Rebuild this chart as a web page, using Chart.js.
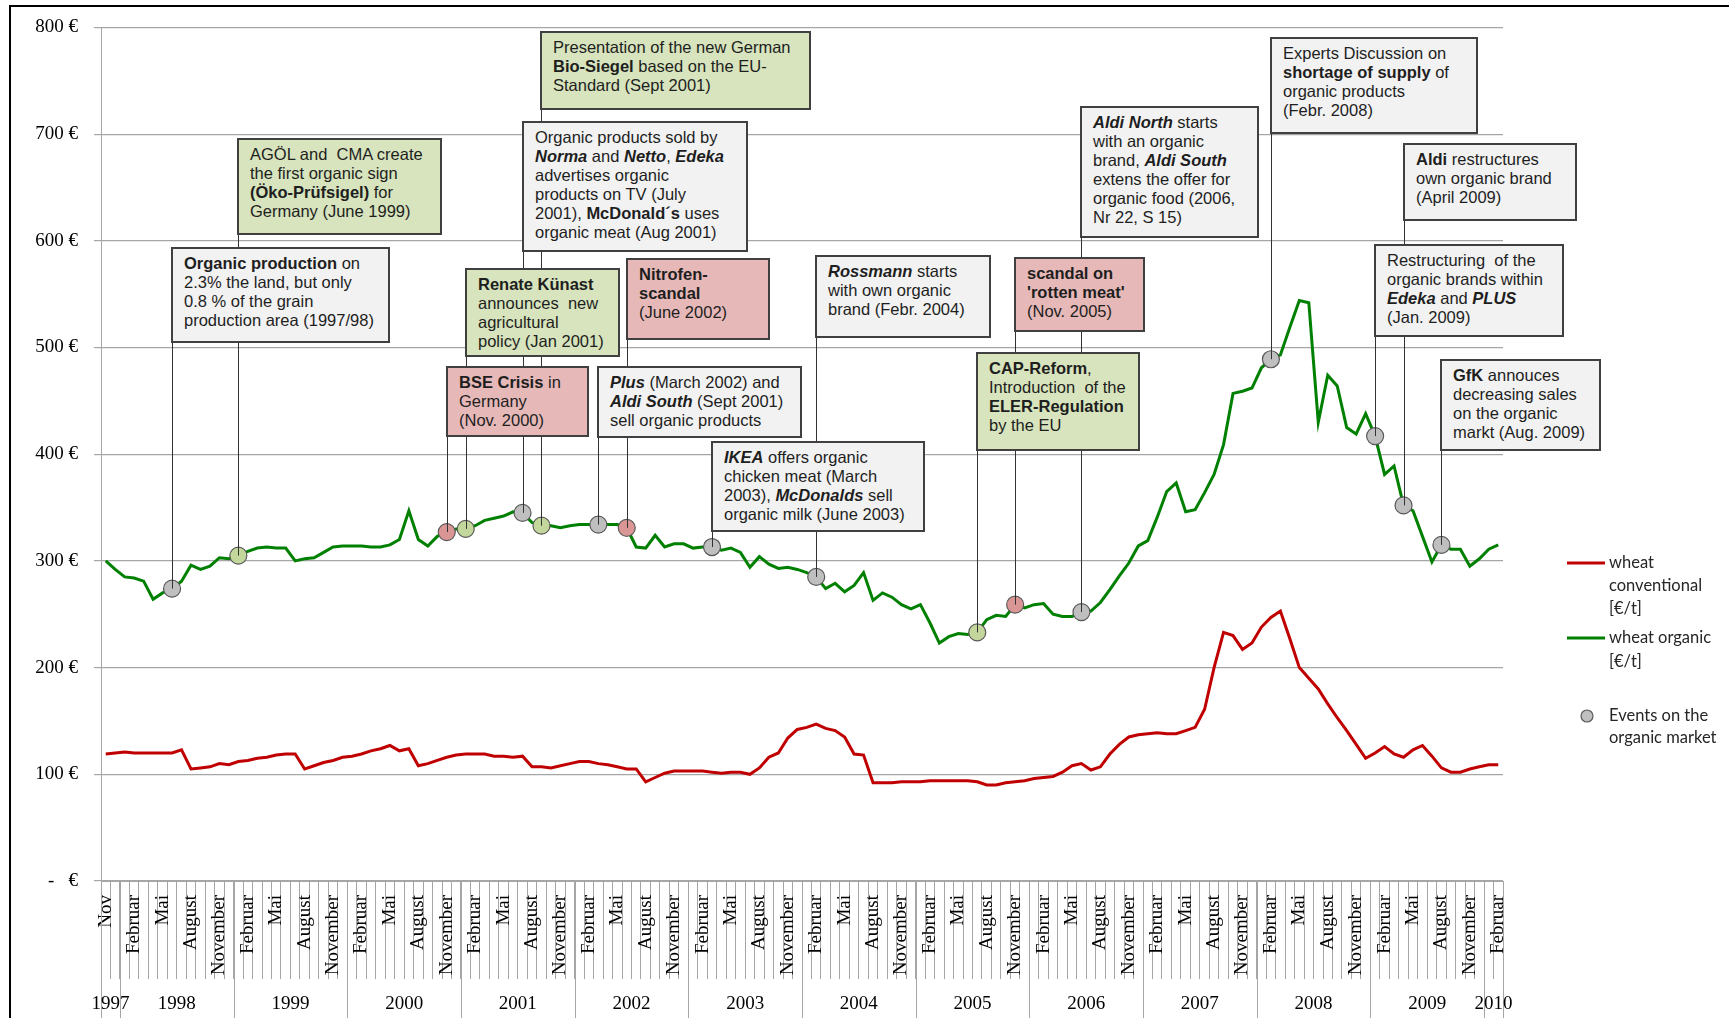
<!DOCTYPE html>
<html>
<head>
<meta charset="utf-8">
<title>Wheat prices and events on the organic market</title>
<script src="https://cdn.jsdelivr.net/npm/chart.js@4.4.0/dist/chart.umd.min.js"></script>
<style>
  html, body { margin: 0; padding: 0; background: #fff; }
  #wrap { position: relative; width: 1729px; height: 1018px; overflow: hidden; }
  #chart { position: absolute; left: 0; top: 0; }
  .box { position: absolute; box-sizing: border-box; border: 2px solid #404040;
         padding: 5px 0 0 11px; font: 16.5px/19px "Liberation Sans", Arial, sans-serif;
         color: #1e1e1e; white-space: pre; }
  .gray { background: #f2f2f2; }
  .green { background: #d7e4bd; }
  .red { background: #e6b9b8; }
</style>
</head>
<body>
<div id="wrap"><canvas id="chart" width="1729" height="1018"></canvas></div>
<script>
// Monatswerte Nov 1997 - Feb 2010 (Euro je Tonne)
const startYear = 1997;
const startMonth = 10; // November
const monthNames = ["Januar", "Februar", "März", "April", "Mai", "Juni", "Juli",
  "August", "September", "Oktober", "November", "Dezember"];

const conventional = [
  119, 120, 121, 120, 120, 120, 120, 120, 123, 105, 106, 107, 110, 109, 112, 113,
  115, 116, 118, 119, 119, 105, 108, 111, 113, 116, 117, 119, 122, 124, 127, 122,
  124, 108, 110, 113, 116, 118, 119, 119, 119, 117, 117, 116, 117, 107, 107, 106,
  108, 110, 112, 112, 110, 109, 107, 105, 105, 93, 97, 101, 103, 103, 103, 103,
  102, 101, 102, 102, 100, 106, 116, 120, 134, 142, 144, 147, 143, 141, 135, 119,
  118, 92, 92, 92, 93, 93, 93, 94, 94, 94, 94, 94, 93, 90, 90, 92,
  93, 94, 96, 97, 98, 102, 108, 110, 104, 107, 119, 128, 135, 137, 138, 139,
  138, 138, 141, 144, 161, 200, 233, 230, 217, 223, 238, 247, 253, 227, 200, 190,
  180, 166, 153, 141, 128, 115, 120, 126, 119, 116, 123, 127, 117, 106, 102, 102,
  105, 107, 109, 109
];

const organic = [
  300, 292, 285, 284, 281, 264, 270, 274, 281, 296, 292, 295, 303, 302, 305, 309,
  312, 313, 312, 312, 300, 302, 303, 308, 313, 314, 314, 314, 313, 313, 315, 320,
  347, 320, 314, 323, 327, 330, 330, 333, 338, 340, 342, 346, 345, 336, 333, 333,
  331, 333, 334, 334, 334, 334, 334, 331, 313, 312, 324, 313, 316, 316, 312, 313,
  313, 310, 312, 308, 294, 304, 297, 293, 294, 292, 289, 285, 274, 279, 271, 277,
  289, 263, 270, 266, 259, 255, 259, 242, 223, 229, 232, 231, 233, 245, 249, 248,
  259, 256, 259, 260, 250, 248, 248, 252, 253, 261, 273, 286, 298, 314, 319, 341,
  365, 373, 346, 348, 364, 381, 409, 457, 459, 462, 481, 489, 493, 519, 544, 542,
  430, 474, 464, 425, 419, 438, 417, 381, 389, 352, 347, 323, 299, 315, 311, 311,
  295, 302, 311, 315
];

// Ereignisse: Monatsindex, Farbe, Text
const eventMonths = [7, 14, 36, 38, 44, 46, 52, 55, 64, 75, 92, 96, 103, 123, 134, 137, 141];
const eventKinds = ["gray", "green", "red", "green", "gray", "green", "gray", "red", "gray",
  "gray", "green", "red", "gray", "gray", "gray", "gray", "gray"];
const eventTexts = [
  "<b>Organic production</b> on\n2.3% the land, but only\n0.8 % of the grain\nproduction area (1997/98)",
  "AGÖL and  CMA create\nthe first organic sign\n<b>(Öko-Prüfsigel)</b> for\nGermany (June 1999)",
  "<b>BSE Crisis</b> in\nGermany\n(Nov. 2000)",
  "<b>Renate Künast</b>\nannounces  new\nagricultural\npolicy (Jan 2001)",
  "Organic products sold by\n<b><i>Norma</i></b> and <b><i>Netto</i></b>, <b><i>Edeka</i></b>\nadvertises organic\nproducts on TV (July\n2001), <b>McDonald´s</b> uses\norganic meat (Aug 2001)",
  "Presentation of the new German\n<b>Bio-Siegel</b> based on the EU-\nStandard (Sept 2001)",
  "<b><i>Plus</i></b> (March 2002) and\n<b><i>Aldi South</i></b> (Sept 2001)\nsell organic products",
  "<b>Nitrofen-\nscandal</b>\n(June 2002)",
  "<b><i>IKEA</i></b> offers organic\nchicken meat (March\n2003), <b><i>McDonalds</i></b> sell\norganic milk (June 2003)",
  "<b><i>Rossmann</i></b> starts\nwith own organic\nbrand (Febr. 2004)",
  "<b>CAP-Reform</b>,\nIntroduction  of the\n<b>ELER-Regulation</b>\nby the EU",
  "<b>scandal on\n'rotten meat'</b>\n(Nov. 2005)",
  "<b><i>Aldi North</i></b> starts\nwith an organic\nbrand, <b><i>Aldi South</i></b>\nextens the offer for\norganic food (2006,\nNr 22, S 15)",
  "Experts Discussion on\n<b>shortage of supply</b> of\norganic products\n(Febr. 2008)",
  "Restructuring  of the\norganic brands within\n<b><i>Edeka</i></b> and <b><i>PLUS</i></b>\n(Jan. 2009)",
  "<b>Aldi</b> restructures\nown organic brand\n(April 2009)",
  "<b>GfK</b> annouces\ndecreasing sales\non the organic\nmarkt (Aug. 2009)"
];

// Lage der Textkästen: [oben, Breite, Höhe] in Pixeln
const boxFrames = [
  [247, 219, 96], [138, 205, 97], [366, 143, 71], [268, 155, 89], [121, 226, 131],
  [31, 271, 79], [366, 205, 72], [258, 144, 82], [441, 214, 91], [255, 176, 83],
  [352, 164, 99], [257, 131, 75], [106, 179, 132], [37, 208, 97], [244, 190, 93],
  [143, 174, 78], [359, 161, 92]
];

const markerColors = { gray: "#bfbfbf", green: "#c3d69b", red: "#d99694" };

// Monatsbeschriftungen
const monthLabels = [];
const monthYears = [];
for (let i = 0; i < organic.length; i++) {
  const m = (startMonth + i) % 12;
  monthLabels.push(monthNames[m]);
  monthYears.push(startYear + Math.floor((startMonth + i) / 12));
}
monthLabels[0] = "Nov";

const eventPoints = organic.map((v, i) => eventMonths.includes(i) ? v : null);

const extras = {
  id: "extras",
  beforeDraw(chart) {
    const ctx = chart.ctx;
    ctx.save();
    ctx.fillStyle = "#fff";
    ctx.fillRect(0, 0, chart.width, chart.height);
    ctx.strokeStyle = "#000";
    ctx.lineWidth = 2;
    ctx.beginPath();
    ctx.moveTo(10, chart.height);
    ctx.lineTo(10, 6);
    ctx.lineTo(chart.width, 6);
    ctx.stroke();
    ctx.restore();
  },
  afterDatasetsDraw(chart) {
    // Verbindungslinien von den Kästen zu den Punkten
    const ctx = chart.ctx;
    const x = chart.scales.x, y = chart.scales.y;
    ctx.save();
    ctx.strokeStyle = "#333";
    ctx.lineWidth = 1;
    eventMonths.forEach((m, k) => {
      const px = Math.round(x.getPixelForValue(m)) + 0.5;
      const top = boxFrames[k][0] + boxFrames[k][2];
      ctx.beginPath();
      ctx.moveTo(px, top);
      ctx.lineTo(px, y.getPixelForValue(organic[m]));
      ctx.stroke();
    });
    ctx.restore();
  },
  afterDraw(chart) {
    const ctx = chart.ctx;
    const x = chart.scales.x;
    const n = organic.length;
    const half = (x.getPixelForValue(1) - x.getPixelForValue(0)) / 2;
    const edge = i => i < n ? x.getPixelForValue(i) - half : x.getPixelForValue(n - 1) + half;

    ctx.save();
    // Jahrestrenner
    ctx.strokeStyle = "#a6a6a6";
    ctx.lineWidth = 1;
    const bounds = [0];
    for (let i = 1; i < n; i++) if (monthYears[i] !== monthYears[i - 1]) bounds.push(i);
    bounds.push(n);
    bounds.forEach(b => {
      const px = Math.round(edge(b)) + 0.5;
      ctx.beginPath();
      ctx.moveTo(px, x.top);
      ctx.lineTo(px, chart.height);
      ctx.stroke();
    });
    // Jahreszahlen
    ctx.fillStyle = "#000";
    ctx.font = "19px 'Liberation Serif'";
    ctx.textAlign = "center";
    ctx.textBaseline = "middle";
    for (let k = 0; k < bounds.length - 1; k++) {
      const cx = (edge(bounds[k]) + edge(bounds[k + 1])) / 2;
      ctx.fillText(String(monthYears[bounds[k]]), cx, 1004);
    }

    // Legende
    ctx.textAlign = "left";
    ctx.font = "16.5px Lato";
    ctx.fillStyle = "#262626";
    ctx.lineWidth = 3;
    ctx.strokeStyle = "#c00000";
    ctx.beginPath(); ctx.moveTo(1567, 563); ctx.lineTo(1605, 563); ctx.stroke();
    ctx.fillText("wheat", 1609, 563);
    ctx.fillText("conventional", 1609, 586);
    ctx.fillText("[€/t]", 1609, 609);
    ctx.strokeStyle = "#008000";
    ctx.beginPath(); ctx.moveTo(1567, 638); ctx.lineTo(1605, 638); ctx.stroke();
    ctx.fillText("wheat organic", 1609, 638);
    ctx.fillText("[€/t]", 1609, 662);
    ctx.lineWidth = 1.2;
    ctx.strokeStyle = "#595959";
    ctx.fillStyle = markerColors.gray;
    ctx.beginPath(); ctx.arc(1587, 716, 6, 0, Math.PI * 2); ctx.fill(); ctx.stroke();
    ctx.fillStyle = "#262626";
    ctx.fillText("Events on the", 1609, 716);
    ctx.fillText("organic market", 1609, 738);
    ctx.restore();
  }
};

const serif = { family: "'Liberation Serif', 'Times New Roman', serif", size: 19 };

const chart = new Chart(document.getElementById("chart"), {
  type: "line",
  data: {
    labels: monthLabels,
    datasets: [
      {
        label: "wheat conventional [€/t]",
        data: conventional,
        borderColor: "#c00000",
        borderWidth: 3,
        pointRadius: 0,
        tension: 0,
        order: 2
      },
      {
        label: "wheat organic [€/t]",
        data: organic,
        borderColor: "#008000",
        borderWidth: 3,
        pointRadius: 0,
        tension: 0,
        order: 1
      },
      {
        label: "Events on the organic market",
        data: eventPoints,
        showLine: false,
        pointRadius: 8.5,
        pointBorderWidth: 1.2,
        pointBorderColor: "#595959",
        pointBackgroundColor: c => markerColors[eventKinds[eventMonths.indexOf(c.dataIndex)]] || "#bfbfbf",
        order: 0
      }
    ]
  },
  options: {
    responsive: false,
    animation: false,
    devicePixelRatio: 1,
    layout: { padding: { top: 26, right: 226, bottom: 0, left: 0 } },
    plugins: { legend: { display: false }, tooltip: { enabled: false } },
    scales: {
      x: {
        offset: true,
        grid: { offset: true, drawOnChartArea: false, drawTicks: true, tickLength: 98, color: "#a6a6a6", lineWidth: 1 },
        border: { color: "#a6a6a6" },
        ticks: {
          autoSkip: false,
          minRotation: 90,
          maxRotation: 90,
          padding: -84,
          color: "#000",
          font: serif,
          callback: (v, i) => i % 3 === 0 ? monthLabels[i] : ""
        },
        afterFit: s => { s.height = 137; }
      },
      y: {
        min: 0,
        max: 800,
        ticks: {
          stepSize: 100,
          padding: 16,
          color: "#000",
          font: serif,
          callback: v => v === 0 ? "-   €" : v + " €"
        },
        grid: { color: "#a6a6a6", tickLength: 7, lineWidth: 1.2 },
        border: { color: "#a6a6a6" },
        afterFit: s => { s.width = 101; }
      }
    }
  },
  plugins: [extras]
});

// Textkästen über der Grafik
const wrap = document.getElementById("wrap");
const xScale = chart.scales.x;
eventMonths.forEach((m, k) => {
  const [top, w, h] = boxFrames[k];
  const div = document.createElement("div");
  div.className = "box " + eventKinds[k];
  div.style.left = (Math.round(xScale.getPixelForValue(m)) - 1) + "px";
  div.style.top = top + "px";
  div.style.width = w + "px";
  div.style.height = h + "px";
  div.innerHTML = eventTexts[k];
  wrap.appendChild(div);
});
</script>
</body>
</html>
